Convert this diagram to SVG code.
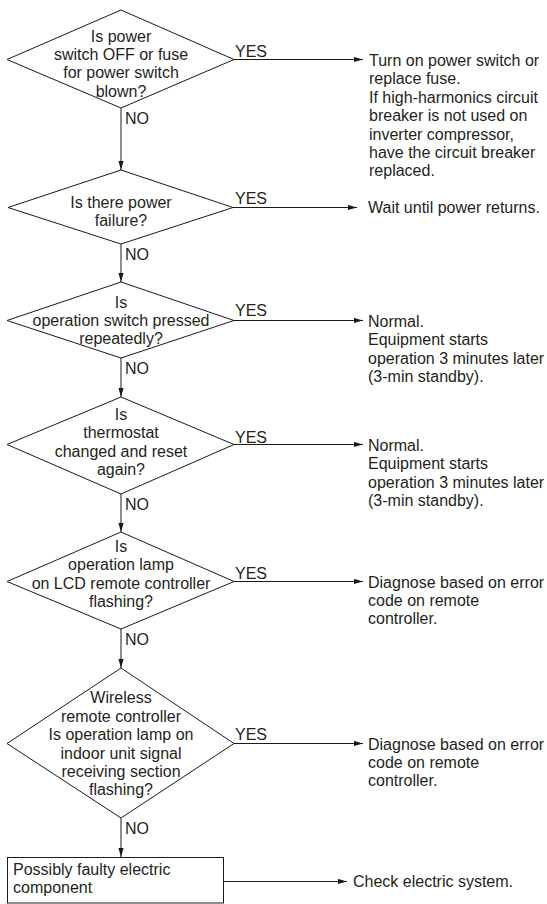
<svg xmlns="http://www.w3.org/2000/svg" width="547" height="904" viewBox="0 0 547 904">
  <style>
    .shape { fill: #ffffff; stroke: #1a1a1a; stroke-width: 1; }
    .edge { fill: none; stroke: #1a1a1a; stroke-width: 1; }
    text { font-family: "Liberation Sans", Arial, Helvetica, sans-serif; font-size: 16px; fill: #231f20; }
    .c { text-anchor: middle; }
  </style>
  <defs>
    <marker id="arrow" markerUnits="userSpaceOnUse" markerWidth="9" markerHeight="6" refX="9" refY="3" orient="auto">
      <path d="M0,0.4 L9,3 L0,5.6 Z" fill="#1a1a1a"/>
    </marker>
  </defs>
  <rect width="547" height="904" fill="#ffffff"/>

  <!-- connectors -->
  <g id="connectors">
    <line class="edge" x1="121" y1="108" x2="121" y2="170" marker-end="url(#arrow)"/>
    <line class="edge" x1="121" y1="244" x2="121" y2="282" marker-end="url(#arrow)"/>
    <line class="edge" x1="121" y1="358" x2="121" y2="397" marker-end="url(#arrow)"/>
    <line class="edge" x1="121" y1="494" x2="121" y2="532" marker-end="url(#arrow)"/>
    <line class="edge" x1="121" y1="629" x2="121" y2="668" marker-end="url(#arrow)"/>
    <line class="edge" x1="121" y1="818" x2="121" y2="857" marker-end="url(#arrow)"/>

    <line class="edge" x1="234" y1="59.5" x2="363" y2="59.5" marker-end="url(#arrow)"/>
    <line class="edge" x1="233" y1="207.5" x2="357" y2="207.5" marker-end="url(#arrow)"/>
    <line class="edge" x1="234" y1="320.5" x2="363" y2="320.5" marker-end="url(#arrow)"/>
    <line class="edge" x1="234" y1="444.5" x2="363" y2="444.5" marker-end="url(#arrow)"/>
    <line class="edge" x1="234" y1="581.5" x2="363" y2="581.5" marker-end="url(#arrow)"/>
    <line class="edge" x1="234" y1="743.5" x2="363" y2="743.5" marker-end="url(#arrow)"/>
    <line class="edge" x1="224" y1="881.5" x2="347" y2="881.5" marker-end="url(#arrow)"/>

    <text x="235" y="56.7">YES</text>
    <text x="235" y="203.5">YES</text>
    <text x="235" y="316">YES</text>
    <text x="235" y="442.5">YES</text>
    <text x="235" y="578.5">YES</text>
    <text x="235" y="740">YES</text>

    <text x="125" y="123.5">NO</text>
    <text x="125" y="260">NO</text>
    <text x="125" y="373.5">NO</text>
    <text x="125" y="510">NO</text>
    <text x="125" y="645">NO</text>
    <text x="125" y="833.5">NO</text>
  </g>

  <!-- decision 1 -->
  <g id="q-power-switch">
    <polygon class="shape" points="121,10 234,59.5 121,108 7,59.5"/>
    <text class="c" x="121" y="41.5">Is power</text>
    <text class="c" x="121" y="60">switch OFF or fuse</text>
    <text class="c" x="121" y="78.4">for power switch</text>
    <text class="c" x="121" y="96.8">blown?</text>
  </g>

  <!-- decision 2 -->
  <g id="q-power-failure">
    <polygon class="shape" points="121,170 233,207.5 121,244 8,207.5"/>
    <text class="c" x="121" y="207.5">Is there power</text>
    <text class="c" x="121" y="225.5">failure?</text>
  </g>

  <!-- decision 3 -->
  <g id="q-operation-switch">
    <polygon class="shape" points="121,282 234,320.5 121,358 7,320.5"/>
    <text class="c" x="121" y="307.5">Is</text>
    <text class="c" x="121" y="325.5">operation switch pressed</text>
    <text class="c" x="121" y="343.5">repeatedly?</text>
  </g>

  <!-- decision 4 -->
  <g id="q-thermostat">
    <polygon class="shape" points="121,397 234,444.5 121,494 7,444.5"/>
    <text class="c" x="121" y="420">Is</text>
    <text class="c" x="121" y="438.4">thermostat</text>
    <text class="c" x="121" y="456.8">changed and reset</text>
    <text class="c" x="121" y="475.2">again?</text>
  </g>

  <!-- decision 5 -->
  <g id="q-lcd-lamp">
    <polygon class="shape" points="121,532 234,581.5 121,629 7,581.5"/>
    <text class="c" x="121" y="552">Is</text>
    <text class="c" x="121" y="570.4">operation lamp</text>
    <text class="c" x="121" y="588.8">on LCD remote controller</text>
    <text class="c" x="121" y="607.2">flashing?</text>
  </g>

  <!-- decision 6 -->
  <g id="q-wireless-lamp">
    <polygon class="shape" points="121,668 234,743.5 121,818 7,743.5"/>
    <text class="c" x="121" y="703.3">Wireless</text>
    <text class="c" x="121" y="721.7">remote controller</text>
    <text class="c" x="121" y="740.1">Is operation lamp on</text>
    <text class="c" x="121" y="758.5">indoor unit signal</text>
    <text class="c" x="121" y="776.9">receiving section</text>
    <text class="c" x="121" y="795.3">flashing?</text>
  </g>

  <!-- final process box -->
  <g id="p-faulty-component">
    <rect class="shape" x="7.5" y="857.5" width="216" height="45.5"/>
    <text x="13" y="875">Possibly faulty electric</text>
    <text x="13" y="893.4">component</text>
  </g>

  <!-- outcomes -->
  <g id="r-turn-on-power">
    <text x="369" y="66">Turn on power switch or</text>
    <text x="369" y="84.4">replace fuse.</text>
    <text x="369" y="102.8">If high-harmonics circuit</text>
    <text x="369" y="121.2">breaker is not used on</text>
    <text x="369" y="139.6">inverter compressor,</text>
    <text x="369" y="158">have the circuit breaker</text>
    <text x="369" y="176.4">replaced.</text>
  </g>
  <g id="r-wait-power">
    <text x="368" y="213">Wait until power returns.</text>
  </g>
  <g id="r-normal-1">
    <text x="368" y="326.7">Normal.</text>
    <text x="368" y="345.1">Equipment starts</text>
    <text x="368" y="363.5">operation 3 minutes later</text>
    <text x="368" y="381.9">(3-min standby).</text>
  </g>
  <g id="r-normal-2">
    <text x="368" y="451">Normal.</text>
    <text x="368" y="469.4">Equipment starts</text>
    <text x="368" y="487.8">operation 3 minutes later</text>
    <text x="368" y="506.2">(3-min standby).</text>
  </g>
  <g id="r-diagnose-1">
    <text x="368" y="587.5">Diagnose based on error</text>
    <text x="368" y="605.9">code on remote</text>
    <text x="368" y="624.3">controller.</text>
  </g>
  <g id="r-diagnose-2">
    <text x="368" y="749.5">Diagnose based on error</text>
    <text x="368" y="767.9">code on remote</text>
    <text x="368" y="786.3">controller.</text>
  </g>
  <g id="r-check-electric">
    <text x="353" y="887">Check electric system.</text>
  </g>
</svg>
